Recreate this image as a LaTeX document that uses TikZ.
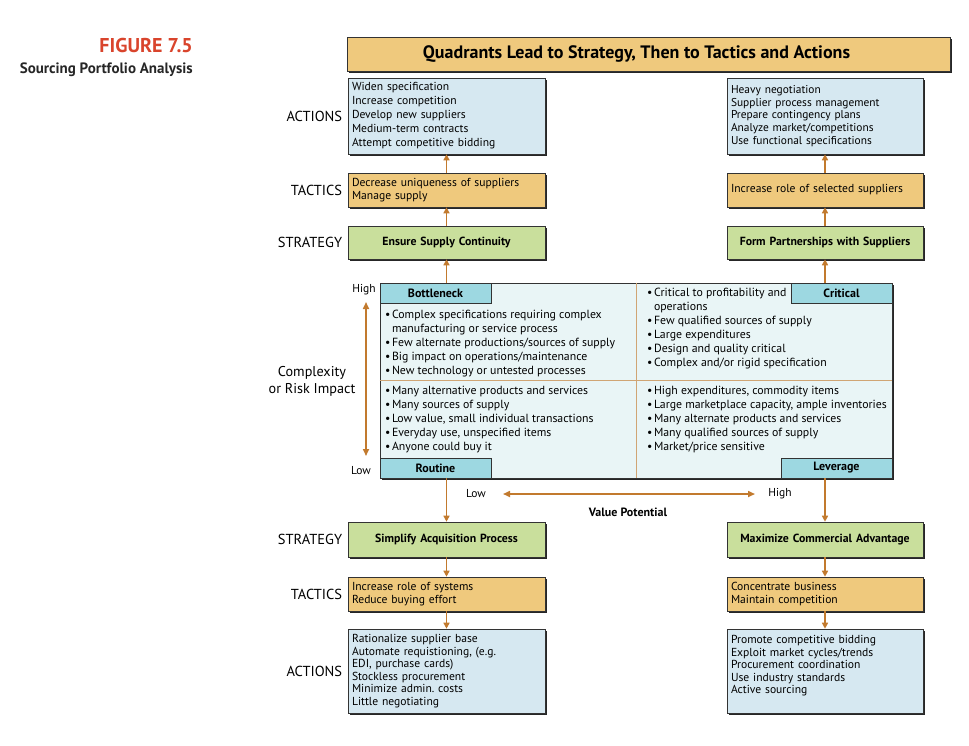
\documentclass[tikz,border=0pt]{standalone}
\usepackage{fontspec}
\setmainfont{PT Sans}
\usetikzlibrary{positioning,shadows,arrows.meta}

\definecolor{hdrTan}{HTML}{EFC97D}
\definecolor{actBlue}{HTML}{D6E8F1}
\definecolor{stratGreen}{HTML}{C9DF9C}
\definecolor{gridFill}{HTML}{E9F5F6}
\definecolor{capCyan}{HTML}{9DD8E1}
\definecolor{arrOrange}{HTML}{C27A2E}
\definecolor{divTan}{HTML}{D0A574}
\definecolor{figRed}{HTML}{D9442C}

\newcommand{\bul}{\textbullet\hspace{1.5pt}}
\newcommand{\ind}{\hphantom{\bul}}
\frenchspacing

\begin{document}
\begin{tikzpicture}[x=1pt,y=-1pt,
    box/.style={draw=black!80, line width=0.6pt, inner sep=4pt,
      drop shadow={shadow xshift=2pt, shadow yshift=-2pt, fill=black!85, opacity=1}},
    actbox/.style={box, fill=actBlue, align=left, font=\fontsize{11.6}{12.5}\selectfont},
    tacbox/.style={box, fill=hdrTan, align=left, font=\fontsize{11.6}{13}\selectfont},
    stratbox/.style={box, fill=stratGreen, align=center, font=\bfseries\fontsize{11.8}{13}\selectfont},
    lcol/.style={minimum width=197pt, text width=189pt},
    rcol/.style={minimum width=196pt, text width=188pt},
    quadcap/.style={draw=black!80, line width=0.6pt, fill=capCyan, minimum height=20pt,
      inner sep=2pt, font=\bfseries\fontsize{12}{13}\selectfont},
    pts/.style={anchor=north west, inner sep=0pt, align=left, font=\fontsize{11.8}{14}\selectfont},
    lbl/.style={font=\fontsize{14.5}{16}\selectfont},
    small/.style={inner sep=0pt, font=\fontsize{11.5}{13}\selectfont},
    flow/.style={draw=arrOrange, line width=1.6pt, -{Triangle[length=6pt,width=6pt]}},
    axis/.style={draw=arrOrange, line width=1.6pt, {Triangle[length=7pt,width=6pt]}-{Triangle[length=7pt,width=6pt]}},
    divider/.style={draw=divTan, line width=0.8pt}
  ]
  \useasboundingbox (0,0) rectangle (969,745);

  % Figure caption
  \node[anchor=east, inner sep=0pt, text=figRed, font=\bfseries\fontsize{20}{22}\selectfont] (figNo) at (193,45) {FIGURE 7.5};
  \node[anchor=east, inner sep=0pt, text=black!85, font=\bfseries\fontsize{15}{17}\selectfont] (figName) at (193,70) {Sourcing Portfolio Analysis};

  % Header
  \node[box, fill=hdrTan, minimum width=603pt, minimum height=34pt, font=\bfseries\fontsize{18}{20}\selectfont] (hdr) at (648.5,54) {Quadrants Lead to Strategy, Then to Tactics and Actions\hspace*{24pt}};

  % Upper column (bottleneck side)
  \node[actbox, lcol, minimum height=76pt, font=\fontsize{11.6}{14}\selectfont] (bnAct) at (446.5,116) {Widen specification\\Increase competition\\Develop new suppliers\\Medium-term contracts\\Attempt competitive bidding};
  \node[tacbox, lcol, minimum height=34pt] (bnTac) at (446.5,190) {Decrease uniqueness of suppliers\\Manage supply};
  \node[stratbox, lcol, minimum height=33pt] (bnStr) at (446.5,242.5) {Ensure Supply Continuity};

  % Upper column (critical side)
  \node[actbox, rcol, minimum height=76pt, font=\fontsize{11.4}{12.7}\selectfont] (crAct) at (825,116) {Heavy negotiation\\Supplier process management\\Prepare contingency plans\\Analyze market/competitions\\Use functional specifications\\[8pt]};
  \node[tacbox, rcol, minimum height=34pt] (crTac) at (825,190) {Increase role of selected suppliers};
  \node[stratbox, rcol, minimum height=33pt] (crStr) at (825,242.5) {Form Partnerships with Suppliers};

  % Row labels
  \node[lbl, left=2pt of bnAct] (lAct1) {ACTIONS};
  \node[lbl, left=2pt of bnTac] (lTac1) {TACTICS};
  \node[lbl, left=2pt of bnStr] (lStr1) {STRATEGY};

  % Portfolio matrix
  \node[box, fill=gridFill, minimum width=512pt, minimum height=195pt] (port) at (636,380.5) {};
  \draw[divider] (port.north) -- (port.south);
  \draw[divider] (port.west) -- (port.east);

  \node[quadcap, minimum width=111pt, anchor=north west] (capBn) at (port.north west) {Bottleneck};
  \node[quadcap, minimum width=101pt, anchor=north east] (capCr) at (port.north east) {Critical};
  \node[quadcap, minimum width=111pt, anchor=south west] (capRt) at (port.south west) {Routine};
  \node[quadcap, minimum width=111pt, anchor=south east] (capLv) at (port.south east) {Leverage};

  \node[pts] (ptsBn) at (385,310) {\bul Complex specifications requiring complex\\\ind manufacturing or service process\\\bul Few alternate productions/sources of supply\\\bul Big impact on operations/maintenance\\\bul New technology or untested processes};
  \node[pts] (ptsCr) at (647,288) {\bul Critical to profitability and\\\ind operations\\\bul Few qualified sources of supply\\\bul Large expenditures\\\bul Design and quality critical\\\bul Complex and/or rigid specification};
  \node[pts] (ptsRt) at (385,386) {\bul Many alternative products and services\\\bul Many sources of supply\\\bul Low value, small individual transactions\\\bul Everyday use, unspecified items\\\bul Anyone could buy it};
  \node[pts] (ptsLv) at (647,386) {\bul High expenditures, commodity items\\\bul Large marketplace capacity, ample inventories\\\bul Many alternate products and services\\\bul Many qualified sources of supply\\\bul Market/price sensitive};

  % Complexity axis
  \node[small] (axHi) at (364,290) {High};
  \node[small] (axLo) at (361,471) {Low};
  \coordinate (axTop) at (366,302);
  \coordinate (axBot) at (366,456);
  \draw[axis] (axTop) -- (axBot);
  \node[align=center, font=\fontsize{14.2}{17}\selectfont] (axName) at (312,381) {Complexity\\or Risk Impact};

  % Value axis
  \node[small] (vLo) at (476,494) {Low};
  \node[small] (vHi) at (780,494) {High};
  \coordinate (vLeft) at (503,494);
  \coordinate (vRight) at (755,494);
  \draw[axis] (vLeft) -- (vRight);
  \node[inner sep=0pt, font=\bfseries\fontsize{12}{13}\selectfont] (vName) at (628,512) {Value Potential};

  % Lower column (routine side)
  \node[stratbox, lcol, minimum height=35pt] (rtStr) at (446.5,539.5) {Simplify Acquisition Process};
  \node[tacbox, lcol, minimum height=34pt] (rtTac) at (446.5,594) {Increase role of systems\\Reduce buying effort};
  \node[actbox, lcol, minimum height=84pt] (rtAct) at (446.5,671) {Rationalize supplier base\\Automate requistioning, (e.g.\\EDI, purchase cards)\\Stockless procurement\\Minimize admin. costs\\Little negotiating};

  % Lower column (leverage side)
  \node[stratbox, rcol, minimum height=35pt] (lvStr) at (825,539.5) {Maximize Commercial Advantage};
  \node[tacbox, rcol, minimum height=34pt] (lvTac) at (825,594) {Concentrate business\\Maintain competition};
  \node[actbox, rcol, minimum height=84pt] (lvAct) at (825,671) {Promote competitive bidding\\Exploit market cycles/trends\\Procurement coordination\\Use industry standards\\Active sourcing\\~};

  \node[lbl, left=2pt of rtStr] (lStr2) {STRATEGY};
  \node[lbl, left=2pt of rtTac] (lTac2) {TACTICS};
  \node[lbl, left=2pt of rtAct] (lAct2) {ACTIONS};

  % Flows
  \draw[flow] (port.north -| bnStr.south) -- (bnStr.south);
  \draw[flow] (bnStr.north) -- (bnTac.south);
  \draw[flow] (bnTac.north) -- (bnAct.south);
  \draw[flow] (port.north -| crStr.south) -- (crStr.south);
  \draw[flow] (crStr.north) -- (crTac.south);
  \draw[flow] (crTac.north) -- (crAct.south);
  \draw[flow] (port.south -| rtStr.north) -- (rtStr.north);
  \draw[flow] (rtStr.south) -- (rtTac.north);
  \draw[flow] (rtTac.south) -- (rtAct.north);
  \draw[flow] (port.south -| lvStr.north) -- (lvStr.north);
  \draw[flow] (lvStr.south) -- (lvTac.north);
  \draw[flow] (lvTac.south) -- (lvAct.north);

\end{tikzpicture}
\end{document}
